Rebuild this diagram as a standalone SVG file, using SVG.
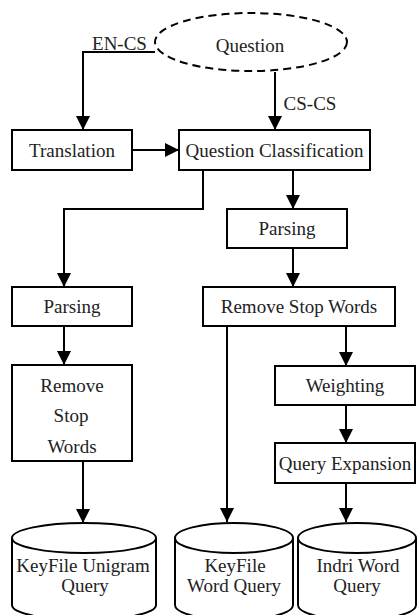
<svg xmlns="http://www.w3.org/2000/svg" width="417" height="615" viewBox="0 0 417 615">
<style>
text{font-family:"Liberation Serif","Times New Roman",serif;font-size:19px;fill:#222;text-anchor:middle}
.box{fill:#fff;stroke:#000;stroke-width:2}
.cn{fill:none;stroke:#000;stroke-width:2;marker-end:url(#ah)}
</style>
<defs>
<marker id="ah" markerUnits="userSpaceOnUse" markerWidth="14" markerHeight="14" refX="14" refY="7" orient="auto" viewBox="0 0 14 14">
<path d="M0,0 L14,7 L0,14 z" fill="#000"/>
</marker>
</defs>
<rect width="417" height="615" fill="#fff"/>
<g id="connectors">
<path class="cn" d="M155,52 H83 V130"/>
<path class="cn" d="M275,72 V130"/>
<path class="cn" d="M132,150 H179"/>
<path class="cn" d="M203,170 V209 H64 V287"/>
<path class="cn" d="M293,170 V209"/>
<path class="cn" d="M293,248 V287"/>
<path class="cn" d="M64,326 V365"/>
<path class="cn" d="M83,461 V523"/>
<path class="cn" d="M227,326 V522"/>
<path class="cn" d="M346,326 V366"/>
<path class="cn" d="M346,405 V443"/>
<path class="cn" d="M346,483 V522"/>
<text x="119.5" y="50">EN-CS</text>
<text x="310" y="110">CS-CS</text>
</g>
<g id="question">
<ellipse cx="251" cy="42" rx="96" ry="29" fill="none" stroke="#000" stroke-width="2" stroke-dasharray="8,5"/>
<text x="250" y="52">Question</text>
</g>
<g id="translation">
<rect class="box" x="12" y="130" width="120" height="40"/>
<text x="72" y="156.5">Translation</text>
</g>
<g id="qclass">
<rect class="box" x="179" y="130" width="191" height="40"/>
<text x="274.5" y="156.5">Question Classification</text>
</g>
<g id="parsing2">
<rect class="box" x="227" y="209" width="120" height="39"/>
<text x="287" y="235">Parsing</text>
</g>
<g id="parsing1">
<rect class="box" x="12" y="287" width="120" height="39"/>
<text x="72" y="313">Parsing</text>
</g>
<g id="rsw2">
<rect class="box" x="203" y="287" width="192" height="39"/>
<text x="299" y="313">Remove Stop Words</text>
</g>
<g id="rsw1">
<rect class="box" x="12" y="365" width="120" height="96"/>
<text x="72" y="392">Remove</text>
<text x="71" y="422">Stop</text>
<text x="72" y="453">Words</text>
</g>
<g id="weighting">
<rect class="box" x="275" y="366" width="140" height="39"/>
<text x="345" y="392">Weighting</text>
</g>
<g id="qexp">
<rect class="box" x="275" y="443" width="140" height="40"/>
<text x="345" y="469.5">Query Expansion</text>
</g>
<g id="cyl1">
<path class="box" d="M12,538 V605 A72,15 0 0 0 156,605 V538"/>
<ellipse class="box" cx="84" cy="538" rx="72" ry="15"/>
<text x="83" y="572">KeyFile Unigram</text>
<text x="85" y="592">Query</text>
</g>
<g id="cyl2">
<path class="box" d="M175,538 V605 A59,15 0 0 0 293,605 V538"/>
<ellipse class="box" cx="234" cy="538" rx="59" ry="15"/>
<text x="235" y="572">KeyFile</text>
<text x="234" y="592">Word Query</text>
</g>
<g id="cyl3">
<path class="box" d="M298,538 V605 A59,15 0 0 0 416,605 V538"/>
<ellipse class="box" cx="357" cy="538" rx="59" ry="15"/>
<text x="358" y="572">Indri Word</text>
<text x="357" y="592">Query</text>
</g>
</svg>
